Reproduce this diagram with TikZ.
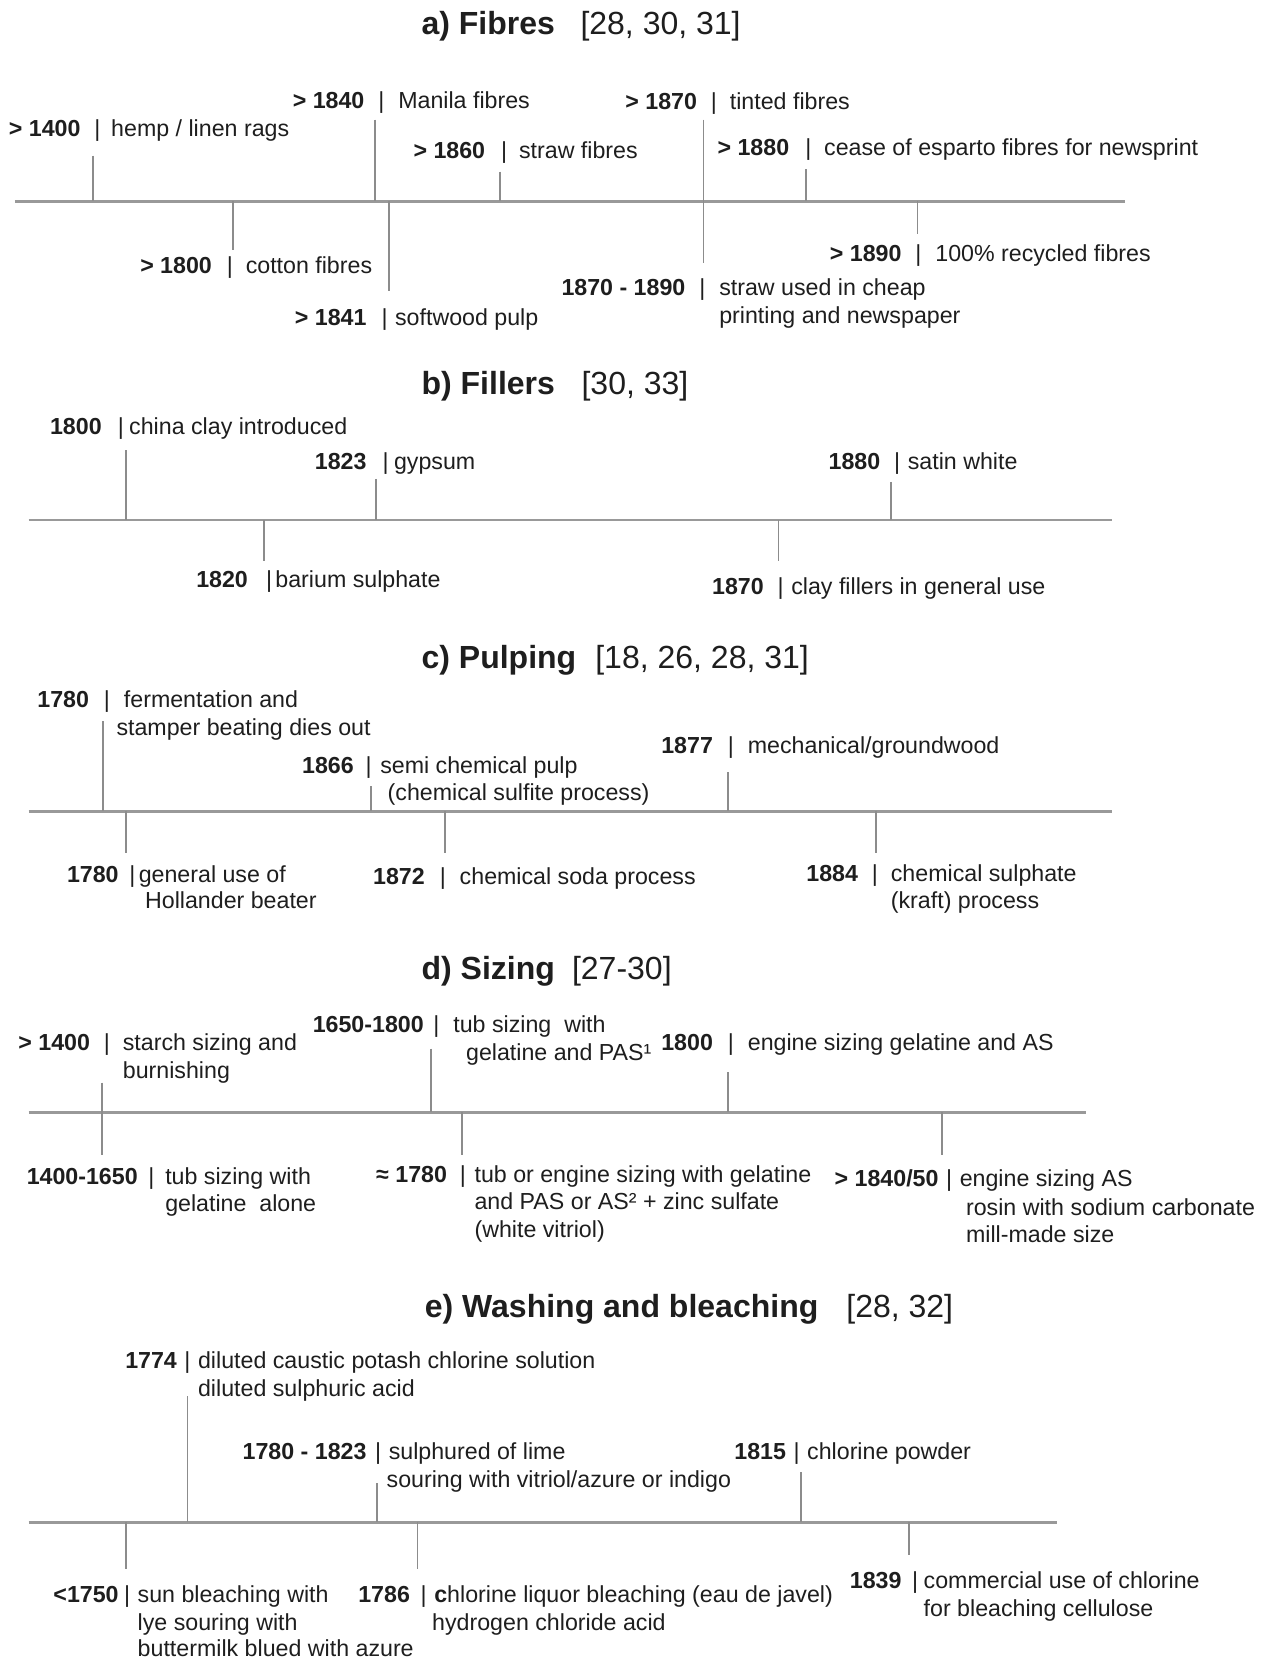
\documentclass[tikz,border=0pt]{standalone}
\usepackage{fontspec}
\setmainfont{Liberation Sans}
\definecolor{txt}{HTML}{1E1E1E}
\definecolor{ln}{HTML}{8C8C8C}
\definecolor{axc}{HTML}{999999}
\newcommand\myev[7]{\node[yr] (#1-y) at (#2,#5) {#6};\node[sep] (#1-s) at (#3,#5) {|};\node[lbl] (#1-t) at (#4,#5) {#7};}
\newcommand\myline[4]{\node[lbl] (#1) at (#2,#3) {#4};}
\newcommand\mytick[4]{\coordinate (#1-a) at (#2,#3); \coordinate (#1-b) at (#2,#4); \draw[tickln] (#1-a) -- (#1-b);}
\newcommand\myaxis[4]{\coordinate (#1-l) at (#2,#4); \coordinate (#1-r) at (#3,#4); \draw[axisln] (#1-l) -- (#1-r);}
\begin{document}
\begin{tikzpicture}[x=0.5296pt,y=-0.5296pt,
 lbl/.style={inner sep=0pt,outer sep=0pt,text=txt,font=\fontsize{11.6}{13}\selectfont,anchor=base west},
 yr/.style={lbl,font=\fontsize{11.6}{13}\selectfont\bfseries,anchor=base east},
 sep/.style={lbl,anchor=base},
 ttl/.style={inner sep=0pt,outer sep=0pt,text=txt,font=\fontsize{16}{19}\selectfont\bfseries,anchor=base west},
 refs/.style={ttl,font=\fontsize{16}{19}\selectfont},
 tickln/.style={draw=ln,line width=0.85pt},
 axisln/.style={draw=axc,line width=1.3pt}]
\useasboundingbox[fill=white] (0,0) rectangle (1197,1568);

% ---------- a) Fibres
\node[ttl] (ta) at (398,33) {a) Fibres};
\node[refs] (ra) at (548,33) {[28, 30, 31]};
\myaxis{axa}{14}{1062}{190}
\mytick{ka1}{88}{147}{190}
\mytick{ka2}{354}{113}{190}
\mytick{ka3}{472}{162}{190}
\mytick{ka4}{664}{113}{248}
\mytick{ka5}{761}{160}{190}
\mytick{ka6}{220}{190}{236}
\mytick{ka7}{367}{190}{275}
\mytick{ka8}{866}{190}{221}
\myev{a1}{76}{92}{105}{129}{> 1400}{hemp / linen rags}
\myev{a2}{344}{360}{376}{102}{> 1840}{Manila fibres}
\myev{a3}{458}{476}{490}{150}{> 1860}{straw fibres}
\myev{a4}{658}{674}{689}{103}{> 1870}{tinted fibres}
\myev{a5}{745}{763}{778}{147}{> 1880}{cease of esparto fibres for newsprint}
\myev{a6}{200}{217}{232}{258}{> 1800}{cotton fibres}
\myev{a7}{346}{363}{373}{307}{> 1841}{softwood pulp}
\myev{a8}{851}{867}{883}{247}{> 1890}{100\% recycled fibres}
\myev{a9}{647}{663}{679}{279}{1870 - 1890}{straw used in cheap}
\myline{a9b}{679}{305}{printing and newspaper}

% ---------- b) Fillers
\node[ttl] (tb) at (398,372) {b) Fillers};
\node[refs] (rb) at (549,372) {[30, 33]};
\myaxis{axb}{27}{1050}{491}
\mytick{kb1}{119}{425}{491}
\mytick{kb2}{355}{452}{491}
\mytick{kb3}{841}{455}{491}
\mytick{kb4}{249}{491}{530}
\mytick{kb5}{735}{491}{530}
\myev{b1}{96}{114}{122}{410}{1800}{china clay introduced}
\myev{b2}{346}{364}{372}{443}{1823}{gypsum}
\myev{b3}{831}{847}{857}{443}{1880}{satin white}
\myev{b4}{234}{254}{260}{555}{1820}{barium sulphate}
\myev{b5}{721}{737}{747}{561}{1870}{clay fillers in general use}

% ---------- c) Pulping
\node[ttl] (tc) at (398,631) {c) Pulping};
\node[refs] (rc) at (562,631) {[18, 26, 28, 31]};
\myaxis{axc}{27}{1050}{766}
\mytick{kc1}{97}{681}{766}
\mytick{kc2}{350}{742}{766}
\mytick{kc3}{687}{729}{766}
\mytick{kc4}{119}{766}{805}
\mytick{kc5}{420}{766}{805}
\mytick{kc6}{827}{766}{805}
\myev{c1}{84}{101}{117}{668}{1780}{fermentation and}
\myline{c1b}{110}{694}{stamper beating dies out}
\myev{c2}{334}{348}{359}{730}{1866}{semi chemical pulp}
\myline{c2b}{366}{756}{(chemical sulfite process)}
\myev{c3}{673}{690}{706}{711}{1877}{mechanical/groundwood}
\myev{c4}{112}{125}{131}{833}{1780}{general use of}
\myline{c4b}{137}{858}{Hollander beater}
\myev{c5}{401}{418}{434}{835}{1872}{chemical soda process}
\myev{c6}{810}{826}{841}{832}{1884}{chemical sulphate}
\myline{c6b}{841}{858}{(kraft) process}

% ---------- d) Sizing
\node[ttl] (td) at (398,925) {d) Sizing};
\node[refs] (rd) at (540,925) {[27-30]};
\myaxis{axd}{27}{1025}{1050}
\mytick{kd1}{96}{1022}{1090}
\mytick{kd2}{407}{990}{1050}
\mytick{kd3}{687}{1012}{1050}
\mytick{kd5}{436}{1050}{1090}
\mytick{kd6}{889}{1050}{1090}
\myev{d1}{85}{101}{116}{992}{> 1400}{starch sizing and}
\myline{d1b}{116}{1018}{burnishing}
\myev{d2}{400}{412}{428}{975}{1650-1800}{tub sizing\ \ with}
\myline{d2b}{440}{1001}{gelatine and PAS¹}
\myev{d3}{673}{690}{706}{992}{1800}{engine sizing gelatine and AS}
\myev{d4}{130}{143}{156}{1118}{1400-1650}{tub sizing with}
\myline{d4b}{156}{1144}{gelatine\ \ alone}
\myev{d5}{422}{437}{448}{1116}{≈ 1780}{tub or engine sizing with gelatine}
\myline{d5b}{448}{1142}{and PAS or AS² + zinc sulfate}
\myline{d5c}{448}{1168}{(white vitriol)}
\myev{d6}{886}{896}{906}{1120}{> 1840/50}{engine sizing AS}
\myline{d6b}{912}{1147}{rosin with sodium carbonate}
\myline{d6c}{912}{1173}{mill-made size}

% ---------- e) Washing and bleaching
\node[ttl] (te) at (401,1244) {e) Washing and bleaching};
\node[refs] (re) at (799,1244) {[28, 32]};
\myaxis{axe}{27}{998}{1437}
\mytick{ke1}{177}{1318}{1437}
\mytick{ke2}{356}{1400}{1437}
\mytick{ke3}{756}{1390}{1437}
\mytick{ke4}{119}{1437}{1481}
\mytick{ke5}{394}{1437}{1481}
\mytick{ke6}{858}{1437}{1468}
\myev{e1}{167}{177}{187}{1292}{1774}{diluted caustic potash chlorine solution}
\myline{e1b}{187}{1318}{diluted sulphuric acid}
\myev{e2}{346}{357}{367}{1378}{1780 - 1823}{sulphured of lime}
\myline{e2b}{365}{1404}{souring with vitriol/azure or indigo}
\myev{e3}{742}{752}{762}{1378}{1815}{chlorine powder}
\myev{e4}{112}{120}{130}{1513}{<1750}{sun bleaching with}
\myline{e4b}{130}{1539}{lye souring with}
\myline{e4c}{130}{1564}{buttermilk blued with azure}
\myev{e5}{387}{400}{410}{1513}{1786}{\textbf{c}hlorine liquor bleaching (eau de javel)}
\myline{e5b}{408}{1539}{hydrogen chloride acid}
\myev{e6}{851}{864}{872}{1500}{1839}{commercial use of chlorine}
\myline{e6b}{872}{1526}{for bleaching cellulose}
\end{tikzpicture}
\end{document}
